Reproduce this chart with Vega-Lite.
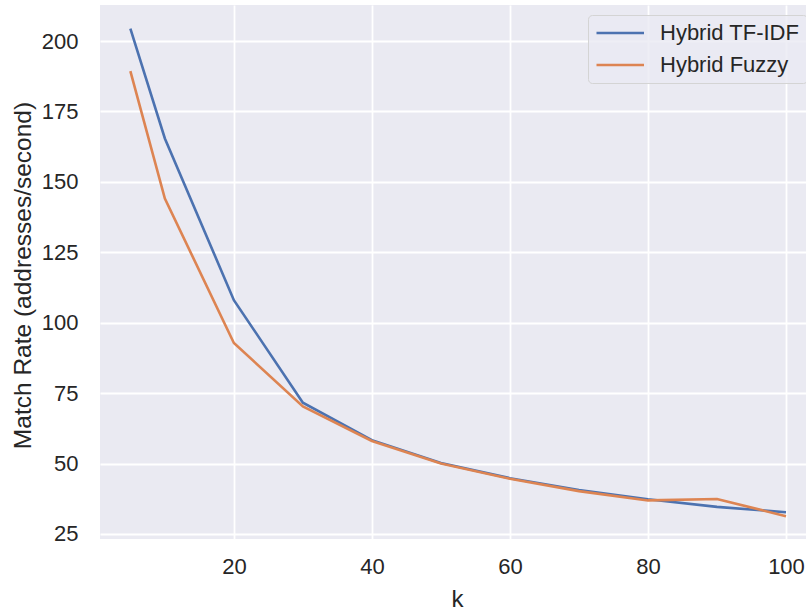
{
  "$schema": "https://vega.github.io/schema/vega-lite/v6.json",
  "autosize": "none",
  "padding": {"left": 100, "top": 5, "right": 0, "bottom": 71},
  "width": 706,
  "height": 534,
  "background": "white",
  "config": {
    "view": {"fill": "#EAEAF2", "stroke": null},
    "font": "Liberation Sans"
  },
  "data": {
    "values": [
      {"k": 5, "rate": 204.4, "method": "Hybrid TF-IDF"},
      {"k": 10, "rate": 165.4, "method": "Hybrid TF-IDF"},
      {"k": 20, "rate": 108.0, "method": "Hybrid TF-IDF"},
      {"k": 30, "rate": 71.6, "method": "Hybrid TF-IDF"},
      {"k": 40, "rate": 58.3, "method": "Hybrid TF-IDF"},
      {"k": 50, "rate": 50.2, "method": "Hybrid TF-IDF"},
      {"k": 60, "rate": 44.8, "method": "Hybrid TF-IDF"},
      {"k": 70, "rate": 40.6, "method": "Hybrid TF-IDF"},
      {"k": 80, "rate": 37.3, "method": "Hybrid TF-IDF"},
      {"k": 90, "rate": 34.6, "method": "Hybrid TF-IDF"},
      {"k": 100, "rate": 32.7, "method": "Hybrid TF-IDF"},
      {"k": 5, "rate": 189.3, "method": "Hybrid Fuzzy"},
      {"k": 10, "rate": 144.1, "method": "Hybrid Fuzzy"},
      {"k": 20, "rate": 92.8, "method": "Hybrid Fuzzy"},
      {"k": 30, "rate": 70.3, "method": "Hybrid Fuzzy"},
      {"k": 40, "rate": 58.0, "method": "Hybrid Fuzzy"},
      {"k": 50, "rate": 50.0, "method": "Hybrid Fuzzy"},
      {"k": 60, "rate": 44.6, "method": "Hybrid Fuzzy"},
      {"k": 70, "rate": 40.2, "method": "Hybrid Fuzzy"},
      {"k": 80, "rate": 36.9, "method": "Hybrid Fuzzy"},
      {"k": 90, "rate": 37.4, "method": "Hybrid Fuzzy"},
      {"k": 100, "rate": 31.3, "method": "Hybrid Fuzzy"}
    ]
  },
  "mark": {"type": "line", "strokeWidth": 2.6, "clip": true},
  "encoding": {
    "x": {
      "field": "k",
      "type": "quantitative",
      "scale": {"domain": [0.6, 102.9], "nice": false, "zero": false},
      "axis": {
        "title": "k",
        "values": [20, 40, 60, 80, 100],
        "domain": false,
        "ticks": false,
        "tickSize": 0,
        "grid": true,
        "gridColor": "white",
        "gridWidth": 1.8,
        "labelFontSize": 22,
        "labelColor": "#262626",
        "labelPadding": 17,
        "titleFontSize": 24,
        "titleFontWeight": "normal",
        "titleColor": "#262626",
        "titleX": 357,
        "titleY": 67,
        "titleBaseline": "alphabetic"
      }
    },
    "y": {
      "field": "rate",
      "type": "quantitative",
      "scale": {"domain": [23.2, 212.8], "nice": false, "zero": false},
      "axis": {
        "title": "Match Rate (addresses/second)",
        "values": [25, 50, 75, 100, 125, 150, 175, 200],
        "domain": false,
        "ticks": false,
        "tickSize": 0,
        "grid": true,
        "gridColor": "white",
        "gridWidth": 1.8,
        "labelFontSize": 22,
        "labelColor": "#262626",
        "labelPadding": 22,
        "titleFontSize": 24.5,
        "titleFontWeight": "normal",
        "titleColor": "#262626",
        "titleX": -77,
        "titleY": 270,
        "titleAngle": -90,
        "titleAlign": "center",
        "titleBaseline": "middle"
      }
    },
    "color": {
      "field": "method",
      "type": "nominal",
      "sort": ["Hybrid TF-IDF", "Hybrid Fuzzy"],
      "scale": {"domain": ["Hybrid TF-IDF", "Hybrid Fuzzy"], "range": ["#4C72B0", "#DD8452"]},
      "legend": {
        "title": null,
        "orient": "none",
        "legendX": 488,
        "legendY": 10,
        "symbolType": "M-1,0H4",
        "symbolSize": 361,
        "symbolStrokeWidth": 2.6,
        "labelFontSize": 22,
        "labelColor": "#262626",
        "labelOffset": 43,
        "rowPadding": 10,
        "padding": 7,
        "fillColor": "rgba(234,234,242,0.8)",
        "strokeColor": "#D4D4D4",
        "cornerRadius": 4
      }
    }
  }
}
